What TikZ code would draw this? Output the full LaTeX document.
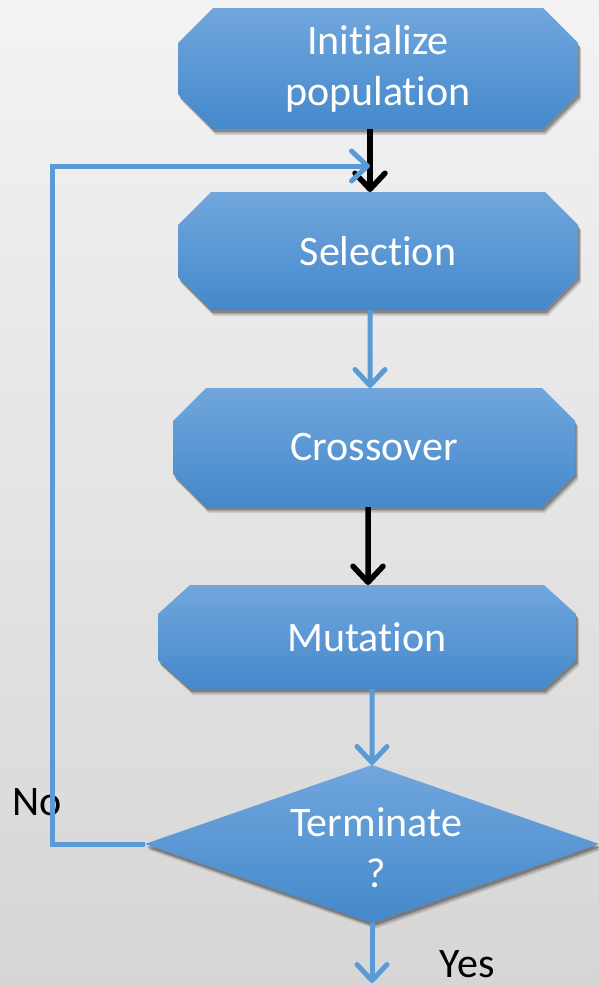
\documentclass[tikz,border=0pt]{standalone}
\usepackage{fontspec}
\setmainfont{Carlito}[RawFeature=-liga]
\usetikzlibrary{arrows.meta}

\definecolor{flowblue}{RGB}{91,155,213}
\definecolor{boxtop}{RGB}{113,166,221}
\definecolor{boxmid}{RGB}{86,155,221}
\definecolor{boxbot}{RGB}{68,137,203}
\definecolor{bgtop}{RGB}{243,243,243}
\definecolor{bgbot}{RGB}{214,214,214}

\tikzset{
  % soft drop shadow built from a few offset translucent copies of the shape
  softshadow/.style={
    preaction={fill=black, fill opacity=.10, transform canvas={xshift=3bp, yshift=-6bp}},
    preaction={fill=black, fill opacity=.15, transform canvas={xshift=2.5bp, yshift=-4.5bp}},
    preaction={fill=black, fill opacity=.25, transform canvas={xshift=1.5bp, yshift=-3bp}}},
  boxfill/.style={softshadow, top color=boxtop, middle color=boxmid, bottom color=boxbot, draw=none},
  boxtext/.style={text=white, align=center, inner sep=0pt, outer sep=0pt,
    font=\fontsize{42bp}{51bp}\selectfont},
  plainlabel/.style={text=black, inner sep=0pt, font=\fontsize{42bp}{51bp}\selectfont},
  bluearrow/.style={draw=flowblue, line width=5bp,
    -{Straight Barb[length=16bp,width=30bp,round]}},
  blackarrow/.style={draw=black, line width=5.5bp,
    -{Straight Barb[length=16bp,width=30bp,round]}}
}

% chamfered process box: name, x1, y1, x2, y2, chamfer x, chamfer y, text
\newcommand\chambox[8]{%
  \path[boxfill] (#2+#6,#3) -- (#4-#6,#3) -- (#4,#3+#7) -- (#4,#5-#7)
    -- (#4-#6,#5) -- (#2+#6,#5) -- (#2,#5-#7) -- (#2,#3+#7) -- cycle;
  \node[boxtext, minimum width={(#4-#2)*1bp}, minimum height={(#5-#3)*1bp}]
    (#1) at ({(#2+#4)/2},{(#3+#5)/2}) {#8};%
}

\begin{document}
\begin{tikzpicture}[x=1bp, y=-1bp]
  \useasboundingbox (0,0) rectangle (599,986);
  \fill[top color=bgtop, bottom color=bgbot] (0,0) rectangle (599,986);

  % process boxes
  \chambox{init}{178}{8}{578}{129}{35}{35}{Initialize\\population}
  \chambox{sel}{178}{192}{578}{310}{33}{33}{Selection}
  \chambox{cross}{173}{388}{575}{507}{33}{33}{Crossover}
  \chambox{mut}{158}{585}{576}{689}{32}{29}{Mutation}

  % decision diamond and its text
  \path[boxfill] (145,844) -- (372,765) -- (599,844) -- (372,923) -- cycle;
  \node[boxtext, minimum width=454bp, minimum height=158bp] (term) at (372,844) {};
  \node[boxtext] (termtext) at (376,848) {Terminate\\?};

  % labels
  \node[plainlabel] (no) at (37,802) {No};
  \node[plainlabel] (yes) at (467,964) {Yes};

  % free ends of connectors
  \coordinate (merge) at (370,166);
  \coordinate (nocorner) at (52,166);
  \coordinate (exit) at (372,983);

  % connectors
  \draw[blackarrow] ([xshift=-8bp]init.south) -- ([xshift=-8bp]sel.north);
  \draw[bluearrow] ([xshift=-8bp]sel.south) -- ([xshift=-4bp]cross.north);
  \draw[blackarrow] ([xshift=-6bp]cross.south) -- ([xshift=1bp]mut.north);
  \draw[bluearrow] ([xshift=5bp]mut.south) -- (term.north);
  \draw[bluearrow] (term.south) -- (exit);
  \draw[bluearrow] (term.west) -| (nocorner) -- (merge);
\end{tikzpicture}
\end{document}
